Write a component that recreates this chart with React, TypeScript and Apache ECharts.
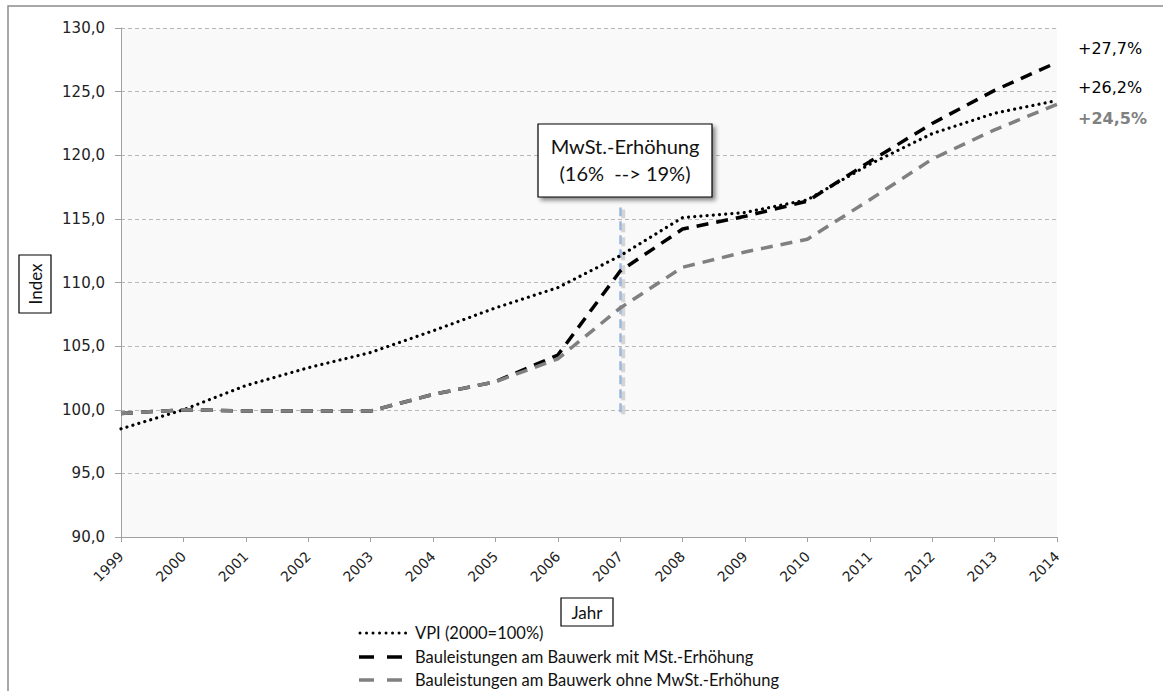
import React, { useEffect, useRef } from "react";
import * as echarts from "echarts";

const years = ["1999","2000","2001","2002","2003","2004","2005","2006","2007","2008","2009","2010","2011","2012","2013","2014"];
const vpi = [98.5, 100.0, 101.9, 103.3, 104.5, 106.2, 108.0, 109.6, 112.1, 115.1, 115.5, 116.5, 119.3, 121.7, 123.3, 124.3];
const mitMwSt = [99.7, 100.0, 99.9, 99.9, 99.9, 101.2, 102.2, 104.3, 110.9, 114.2, 115.2, 116.4, 119.5, 122.5, 125.1, 127.3];
const ohneMwSt = [99.7, 100.0, 99.9, 99.9, 99.9, 101.2, 102.2, 104.0, 108.0, 111.2, 112.4, 113.4, 116.5, 119.7, 122.0, 124.0];
const seriesNames = ["VPI (2000=100%)", "Bauleistungen am Bauwerk mit MSt.-Erhöhung", "Bauleistungen am Bauwerk ohne MwSt.-Erhöhung"];
const endLabels = ["+27,7%", "+26,2%", "+24,5%"];
const markerYear = "2007";
const markerRange = [99.8, 115.9];
const annotationLines = ["MwSt.-Erhöhung", "(16%  --> 19%)"];

const SANS = "Lato, 'Noto Sans', sans-serif";
const TICK = "'DejaVu Sans', Verdana, sans-serif";

export default function App() {
  const ref = useRef<HTMLDivElement>(null);
  useEffect(() => {
    if (!ref.current) return;
    const chart = echarts.init(ref.current, undefined, { renderer: "svg" });
    const legendRows = [633, 657, 680];
    const option: any = {
      animation: false,
      backgroundColor: "#ffffff",
      grid: { left: 121, right: 106, top: 28, bottom: 154, show: true, backgroundColor: "#f9f9f9", borderWidth: 0 },
      xAxis: {
        type: "category",
        data: years,
        boundaryGap: false,
        axisLine: { lineStyle: { color: "#a0a0a0", width: 1 } },
        axisTick: { show: true, length: 5, lineStyle: { color: "#a0a0a0" } },
        axisLabel: { rotate: 45, interval: 0, fontSize: 14, fontFamily: TICK, color: "#222", margin: 17 },
        splitLine: { show: false },
      },
      yAxis: {
        type: "value",
        min: 90,
        max: 130,
        interval: 5,
        axisLine: { show: true, lineStyle: { color: "#a0a0a0", width: 1 } },
        axisTick: { show: true, length: 6, lineStyle: { color: "#a0a0a0" } },
        axisLabel: {
          fontSize: 15, fontFamily: TICK, color: "#222", margin: 16,
          formatter: (v: number) => v.toFixed(1).replace(".", ","),
        },
        splitLine: { show: true, lineStyle: { color: "#b8b8b8", type: [4, 3], width: 1 } },
      },
      series: [
        {
          name: seriesNames[0], type: "line", data: vpi, showSymbol: false, symbol: "none",
          lineStyle: { color: "#000000", width: 3.2, type: [0.01, 6.2], cap: "round" }, z: 3,
        },
        {
          name: seriesNames[1], type: "line", data: mitMwSt, showSymbol: false, symbol: "none",
          lineStyle: { color: "#000000", width: 3.5, type: [12, 8] }, z: 4,
          markLine: {
            silent: true, symbol: ["none", "none"], label: { show: false }, z: 2,
            lineStyle: { color: "#9db8de", width: 2.5, type: [9, 5] },
            data: [[{ coord: [markerYear, markerRange[0]] }, { coord: [markerYear, markerRange[1]] }]],
          },
        },
        {
          name: seriesNames[2], type: "line", data: ohneMwSt, showSymbol: false, symbol: "none",
          lineStyle: { color: "#808080", width: 3.5, type: [12, 8] }, z: 5,
        },
      ],
      graphic: [
        { type: "rect", silent: true, shape: { x: 8, y: 6, width: 1200, height: 720 }, style: { fill: "none", stroke: "#8c8c8c", lineWidth: 1.5 } },
        // annotation box
        { type: "rect", shape: { x: 538, y: 124, width: 174, height: 73 }, style: { fill: "#ffffff", stroke: "#000", lineWidth: 1.2, shadowColor: "rgba(0,0,0,0.45)", shadowBlur: 4, shadowOffsetX: 3, shadowOffsetY: 3 }, z: 100 },
        { type: "text", x: 625, y: 146, style: { text: annotationLines[0], fontSize: 20, fontFamily: SANS, fill: "#111", align: "center", verticalAlign: "middle" }, z: 101 },
        { type: "text", x: 625, y: 173, style: { text: annotationLines[1], fontSize: 20, fontFamily: SANS, fill: "#111", align: "center", verticalAlign: "middle" }, z: 101 },
        // end labels
        { type: "text", x: 1078, y: 48, style: { text: endLabels[0], fontSize: 16, fontFamily: TICK, fill: "#000", verticalAlign: "middle" } },
        { type: "text", x: 1078, y: 87, style: { text: endLabels[1], fontSize: 16, fontFamily: TICK, fill: "#000", verticalAlign: "middle" } },
        { type: "text", x: 1078, y: 118, style: { text: endLabels[2], fontSize: 16, fontWeight: "bold", fontFamily: TICK, fill: "#808080", verticalAlign: "middle" } },
        // axis titles
        { type: "rect", shape: { x: 19, y: 255, width: 32, height: 58 }, style: { fill: "#fff", stroke: "#000", lineWidth: 1.2 } },
        { type: "text", x: 35, y: 284, rotation: Math.PI / 2, style: { text: "Index", fontSize: 17, fontFamily: SANS, fill: "#111", align: "center", verticalAlign: "middle" } },
        { type: "rect", shape: { x: 561, y: 598, width: 52, height: 28 }, style: { fill: "#fff", stroke: "#000", lineWidth: 1.2 } },
        { type: "text", x: 587, y: 612, style: { text: "Jahr", fontSize: 17, fontFamily: SANS, fill: "#111", align: "center", verticalAlign: "middle" } },
        // legend
        { type: "line", shape: { x1: 360, y1: legendRows[0], x2: 407, y2: legendRows[0] }, style: { stroke: "#000", lineWidth: 3, lineDash: [0.01, 6.5], lineCap: "round" } },
        { type: "line", shape: { x1: 359, y1: legendRows[1], x2: 402, y2: legendRows[1] }, style: { stroke: "#000", lineWidth: 3.5, lineDash: [15, 13] } },
        { type: "line", shape: { x1: 359, y1: legendRows[2], x2: 402, y2: legendRows[2] }, style: { stroke: "#808080", lineWidth: 3.5, lineDash: [15, 13] } },
        { type: "text", x: 415, y: legendRows[0], style: { text: seriesNames[0], fontSize: 16.5, fontFamily: SANS, fill: "#111", verticalAlign: "middle" } },
        { type: "text", x: 415, y: legendRows[1], style: { text: seriesNames[1], fontSize: 16.5, fontFamily: SANS, fill: "#111", verticalAlign: "middle" } },
        { type: "text", x: 415, y: legendRows[2], style: { text: seriesNames[2], fontSize: 16.5, fontFamily: SANS, fill: "#111", verticalAlign: "middle" } },
      ],
    };
    chart.setOption(option);
    // soft gray shadow beside the marker line, positioned through the chart's own scales
    const idx = years.indexOf(markerYear);
    const p0 = chart.convertToPixel({ gridIndex: 0 }, [idx, markerRange[0]]) as number[];
    const p1 = chart.convertToPixel({ gridIndex: 0 }, [idx, markerRange[1]]) as number[];
    if (p0 && p1) {
      const g = (option.graphic as any[]).slice();
      g.push({
        type: "line", silent: true, z: 1,
        shape: { x1: p0[0] + 3, y1: p0[1] + 2, x2: p1[0] + 3, y2: p1[1] + 2 },
        style: { stroke: "rgba(120,120,120,0.28)", lineWidth: 4, lineDash: [9, 5] },
      });
      chart.setOption({ graphic: g }, { replaceMerge: ["graphic"] });
    }
    return () => chart.dispose();
  }, []);
  return <div ref={ref} style={{ width: 1163, height: 691, position: "absolute", left: 0, top: 0 }} />;
}
